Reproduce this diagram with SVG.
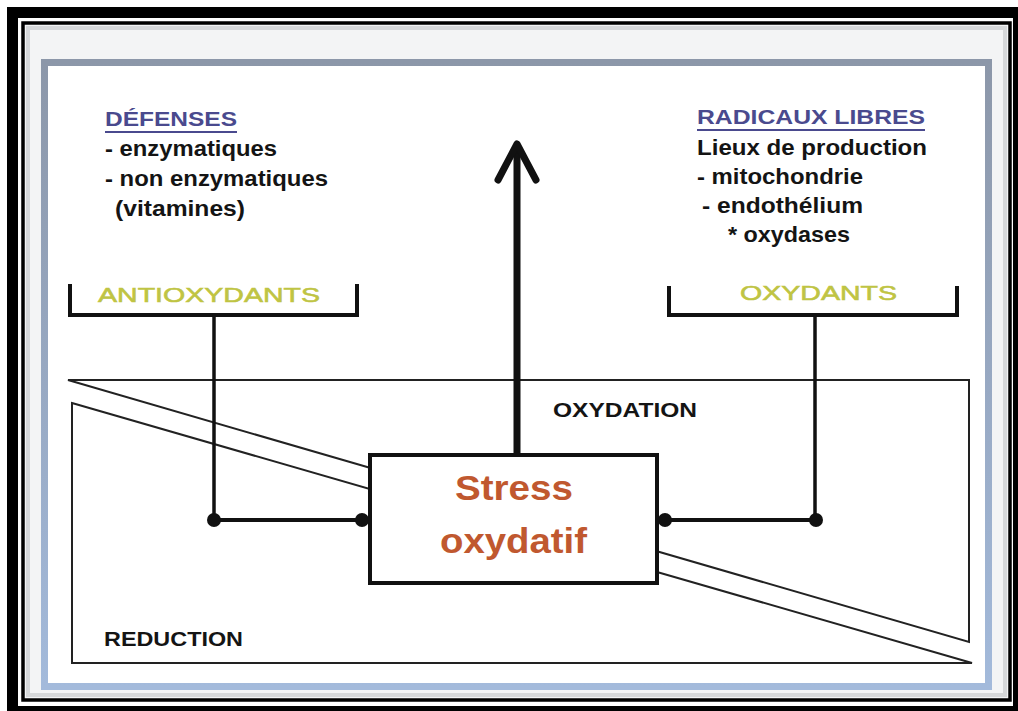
<svg xmlns="http://www.w3.org/2000/svg" width="1018" height="711" viewBox="0 0 1018 711">
  <defs>
    <linearGradient id="bord" x1="0" y1="0" x2="0" y2="1">
      <stop offset="0" stop-color="#8c97a9"/>
      <stop offset="1" stop-color="#a3badb"/>
    </linearGradient>
  </defs>
  <style>
    .t { font-family: "Liberation Sans", Arial, sans-serif; }
    .head { font-size: 20px; font-weight: bold; fill: #4a4a8e; }
    .item { font-size: 22px; font-weight: bold; fill: #141414; }
    .yel { font-size: 21px; fill: #bfc443; stroke: #bfc443; stroke-width: 0.6px; }
    .zone { font-size: 21px; font-weight: bold; fill: #141414; }
    .stress { font-size: 35px; font-weight: bold; fill: #c0582f; }
    .line { stroke: #111; fill: none; }
    .dot { fill: #111; }
  </style>

  <g id="frame">
    <rect x="0" y="0" width="1018" height="711" fill="#ffffff"/>
    <rect x="12.5" y="12.5" width="1006" height="699" fill="none" stroke="#000" stroke-width="11"/>
    <rect x="23" y="23" width="987" height="677" fill="#f3f4f5" stroke="#000" stroke-width="3.5"/>
    <rect x="28" y="28" width="977" height="667" fill="none" stroke="#d6d8da" stroke-width="4"/>
    <rect x="44.5" y="62.5" width="944" height="624" fill="#ffffff" stroke="url(#bord)" stroke-width="7"/>
  </g>

  <g id="zones">
    <polygon points="68,380 969,380 969,642" fill="none" stroke="#222" stroke-width="2"/>
    <polygon points="72,403 972,663 72,663" fill="none" stroke="#222" stroke-width="2"/>
  </g>

  <g id="label-oxydation">
    <text class="t zone" x="553" y="417" textLength="144" lengthAdjust="spacingAndGlyphs">OXYDATION</text>
  </g>
  <g id="label-reduction">
    <text class="t zone" x="104" y="646" textLength="139" lengthAdjust="spacingAndGlyphs">REDUCTION</text>
  </g>

  <g id="defenses">
    <text class="t head" x="105" y="126" textLength="132" lengthAdjust="spacingAndGlyphs">DÉFENSES</text>
    <line x1="105" y1="132" x2="237" y2="132" stroke="#4a4a8e" stroke-width="2"/>
    <text class="t item" x="105" y="156" textLength="172" lengthAdjust="spacingAndGlyphs">- enzymatiques</text>
    <text class="t item" x="105" y="186" textLength="223" lengthAdjust="spacingAndGlyphs">- non enzymatiques</text>
    <text class="t item" x="115" y="216" textLength="130" lengthAdjust="spacingAndGlyphs">(vitamines)</text>
  </g>

  <g id="radicaux">
    <text class="t head" x="697" y="124" textLength="228" lengthAdjust="spacingAndGlyphs">RADICAUX LIBRES</text>
    <line x1="697" y1="130" x2="925" y2="130" stroke="#4a4a8e" stroke-width="2"/>
    <text class="t item" x="697" y="155" textLength="230" lengthAdjust="spacingAndGlyphs">Lieux de production</text>
    <text class="t item" x="697" y="184" textLength="166" lengthAdjust="spacingAndGlyphs">- mitochondrie</text>
    <text class="t item" x="702" y="213" textLength="161" lengthAdjust="spacingAndGlyphs">- endothélium</text>
    <text class="t item" x="728" y="242" textLength="122" lengthAdjust="spacingAndGlyphs">* oxydases</text>
  </g>

  <g id="antioxydants">
    <path class="line" d="M70,284 V315 H357 V284" stroke-width="4"/>
    <text class="t yel" x="98" y="302" textLength="222" lengthAdjust="spacingAndGlyphs">ANTIOXYDANTS</text>
  </g>

  <g id="oxydants">
    <path class="line" d="M669,286 V315 H957 V286" stroke-width="4"/>
    <text class="t yel" x="740" y="300" textLength="157" lengthAdjust="spacingAndGlyphs">OXYDANTS</text>
  </g>

  <g id="stress">
    <rect x="370" y="455" width="287" height="128" fill="#ffffff" stroke="#111" stroke-width="4"/>
    <text class="t stress" x="455" y="500" textLength="118" lengthAdjust="spacingAndGlyphs">Stress</text>
    <text class="t stress" x="440" y="553" textLength="147" lengthAdjust="spacingAndGlyphs">oxydatif</text>
  </g>

  <g id="connectors">
    <line class="line" x1="214" y1="315" x2="214" y2="520" stroke-width="3.5"/>
    <line class="line" x1="214" y1="520" x2="362" y2="520" stroke-width="4"/>
    <line class="line" x1="815" y1="315" x2="815" y2="520" stroke-width="3.5"/>
    <line class="line" x1="665" y1="520" x2="815" y2="520" stroke-width="4"/>
    <circle class="dot" cx="214" cy="520" r="7"/>
    <circle class="dot" cx="362" cy="520" r="7"/>
    <circle class="dot" cx="665" cy="520" r="7"/>
    <circle class="dot" cx="816" cy="520" r="7"/>
    <line class="line" x1="517" y1="453" x2="517" y2="146" stroke-width="7"/>
    <polyline class="line" points="498,180 517,144 536,180" stroke-width="7" stroke-linecap="round" stroke-linejoin="round"/>
  </g>
</svg>
